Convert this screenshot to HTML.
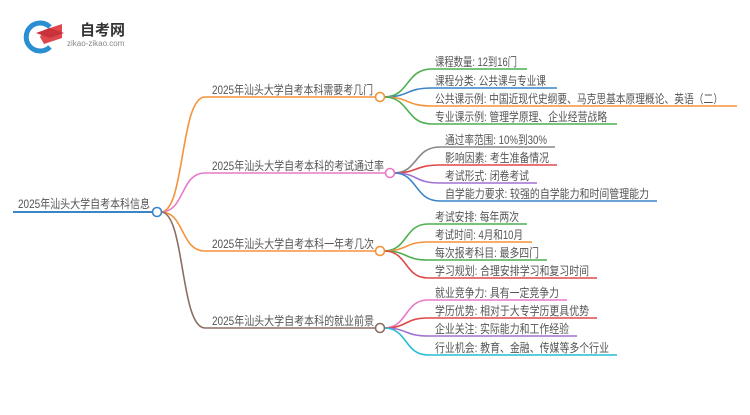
<!DOCTYPE html>
<html><head><meta charset="utf-8"><style>
body{margin:0;background:#fff;width:750px;height:410px;overflow:hidden}
text{font-family:"Liberation Sans","Noto Sans CJK SC",sans-serif;font-size:12px;fill:#555}
</style></head><body>
<svg width="750" height="410" viewBox="0 0 750 410" xmlns="http://www.w3.org/2000/svg">
<path d="M50 27 A14 14 0 1 0 50 47" fill="none" stroke="#2a8fd0" stroke-width="5"/>
<path d="M44 30 L62 24 L62 38 L44 44 L40 37 Z" fill="#e0474c"/>
<path d="M36 33 L50 28 L64 33 L50 38 Z" fill="#c8323a"/>
<text x="80" y="35" style="font-size:15px;font-weight:bold;fill:#333">自考网</text>
<text x="67" y="46" style="font-size:8px;fill:#888">zikao-zikao.com</text>
<line x1="13" y1="212" x2="153" y2="212" stroke="#3a84c8" stroke-width="2"/>
<text x="18" y="208" textLength="132" lengthAdjust="spacingAndGlyphs">2025年汕头大学自考本科信息</text>
<g fill="none" stroke-width="1.6">
<path d="M161 212 C185 212 180 97 205 97 L376 97" stroke="#f5923a"/>
<path d="M161 212 C185 212 180 173 205 173 L386 173" stroke="#e879c8"/>
<path d="M161 212 C185 212 180 251 205 251 L376 251" stroke="#f5923a"/>
<path d="M161 212 C185 212 180 328 205 328 L376 328" stroke="#8d6e63"/>
<path d="M384 97 C410 97 405 69 432 69 L527 69" stroke="#4caf50"/>
<path d="M384 97 C410 97 405 88 432 88 L557 88" stroke="#3a84c8"/>
<path d="M384 97 C410 97 405 106 432 106 L737 106" stroke="#f5923a"/>
<path d="M384 97 C410 97 405 124 432 124 L617 124" stroke="#4caf50"/>
<path d="M394 173 C418 173 414 147 440 147 L555 147" stroke="#888"/>
<path d="M394 173 C418 173 414 165 440 165 L557 165" stroke="#e04848"/>
<path d="M394 173 C418 173 414 183 440 183 L537 183" stroke="#a070d0"/>
<path d="M394 173 C418 173 414 201 440 201 L657 201" stroke="#3a84c8"/>
<path d="M384 251 C408 251 404 224 428 224 L527 224" stroke="#4caf50"/>
<path d="M384 251 C408 251 404 242 428 242 L532 242" stroke="#f5923a"/>
<path d="M384 251 C408 251 404 260 428 260 L547 260" stroke="#4caf50"/>
<path d="M384 251 C408 251 404 278 428 278 L597 278" stroke="#e04848"/>
<path d="M384 328 C408 328 404 300 428 300 L567 300" stroke="#e879c8"/>
<path d="M384 328 C408 328 404 318 428 318 L597 318" stroke="#e04848"/>
<path d="M384 328 C408 328 404 336 428 336 L577 336" stroke="#a070d0"/>
<path d="M384 328 C408 328 404 355 428 355 L617 355" stroke="#26bcd7"/>
</g>
<g fill="#fff" stroke-width="1.6">
<circle cx="157" cy="212" r="4.5" stroke="#3a84c8"/>
<circle cx="380" cy="97" r="4.5" stroke="#f5923a"/>
<circle cx="390" cy="173" r="4.5" stroke="#e879c8"/>
<circle cx="380" cy="251" r="4.5" stroke="#f5923a"/>
<circle cx="380" cy="328" r="4.5" stroke="#8d6e63"/>
</g>
<g lengthAdjust="spacingAndGlyphs">
<text x="212" y="94" textLength="161" lengthAdjust="spacingAndGlyphs">2025年汕头大学自考本科需要考几门</text>
<text x="212" y="170" textLength="172" lengthAdjust="spacingAndGlyphs">2025年汕头大学自考本科的考试通过率</text>
<text x="212" y="248" textLength="162" lengthAdjust="spacingAndGlyphs">2025年汕头大学自考本科一年考几次</text>
<text x="212" y="325" textLength="162" lengthAdjust="spacingAndGlyphs">2025年汕头大学自考本科的就业前景</text>
<text x="435" y="66" textLength="82" lengthAdjust="spacingAndGlyphs">课程数量: 12到16门</text>
<text x="435" y="85" textLength="111" lengthAdjust="spacingAndGlyphs">课程分类: 公共课与专业课</text>
<text x="435" y="103" textLength="288" lengthAdjust="spacingAndGlyphs">公共课示例: 中国近现代史纲要、马克思基本原理概论、英语（二）</text>
<text x="435" y="121" textLength="172" lengthAdjust="spacingAndGlyphs">专业课示例: 管理学原理、企业经营战略</text>
<text x="445" y="144" textLength="102" lengthAdjust="spacingAndGlyphs">通过率范围: 10%到30%</text>
<text x="445" y="162" textLength="104" lengthAdjust="spacingAndGlyphs">影响因素: 考生准备情况</text>
<text x="445" y="180" textLength="84" lengthAdjust="spacingAndGlyphs">考试形式: 闭卷考试</text>
<text x="445" y="198" textLength="204" lengthAdjust="spacingAndGlyphs">自学能力要求: 较强的自学能力和时间管理能力</text>
<text x="435" y="221" textLength="84" lengthAdjust="spacingAndGlyphs">考试安排: 每年两次</text>
<text x="435" y="239" textLength="88" lengthAdjust="spacingAndGlyphs">考试时间: 4月和10月</text>
<text x="435" y="257" textLength="104" lengthAdjust="spacingAndGlyphs">每次报考科目: 最多四门</text>
<text x="435" y="275" textLength="154" lengthAdjust="spacingAndGlyphs">学习规划: 合理安排学习和复习时间</text>
<text x="435" y="297" textLength="124" lengthAdjust="spacingAndGlyphs">就业竞争力: 具有一定竞争力</text>
<text x="435" y="315" textLength="154" lengthAdjust="spacingAndGlyphs">学历优势: 相对于大专学历更具优势</text>
<text x="435" y="333" textLength="134" lengthAdjust="spacingAndGlyphs">企业关注: 实际能力和工作经验</text>
<text x="435" y="352" textLength="174" lengthAdjust="spacingAndGlyphs">行业机会: 教育、金融、传媒等多个行业</text>
</g>
</svg>
</body></html>
